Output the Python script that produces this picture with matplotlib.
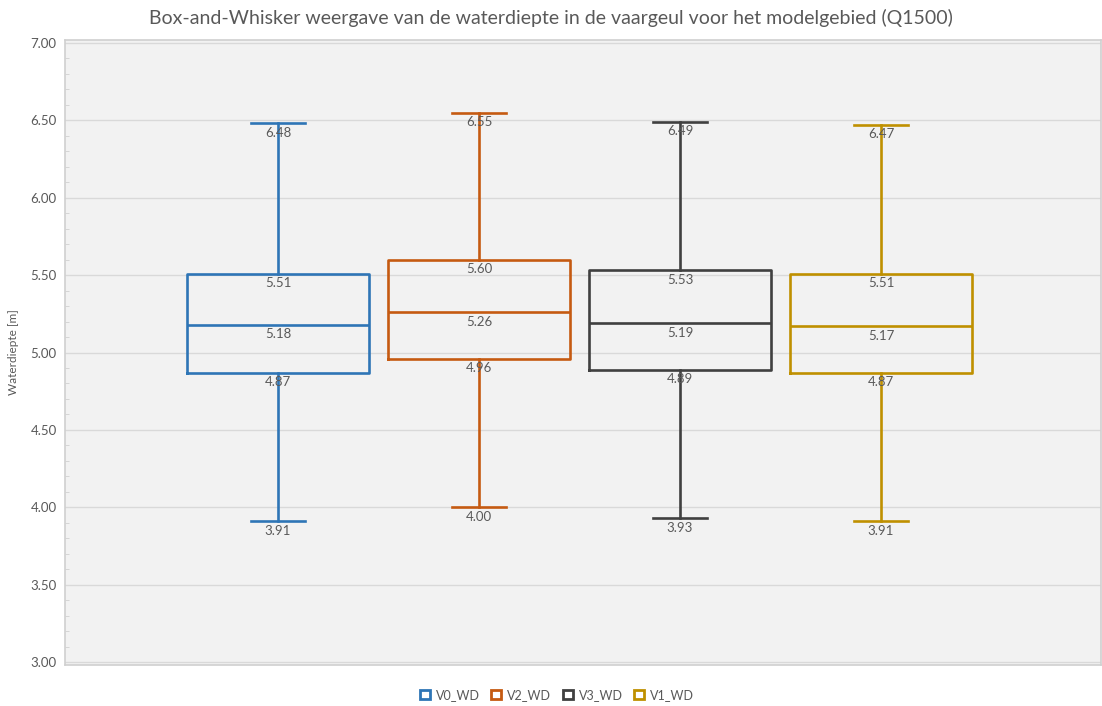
import matplotlib.pyplot as plt
from matplotlib.patches import Patch
from matplotlib.ticker import MultipleLocator

plt.rcParams['font.family'] = ['Lato', 'DejaVu Sans']

series = ['V0_WD', 'V2_WD', 'V3_WD', 'V1_WD']
colors = ['#2e75b6', '#c55a11', '#404040', '#bf9000']
whislo = [3.91, 4.00, 3.93, 3.91]
q1 = [4.87, 4.96, 4.89, 4.87]
med = [5.18, 5.26, 5.19, 5.17]
q3 = [5.51, 5.60, 5.53, 5.51]
whishi = [6.48, 6.55, 6.49, 6.47]

text_col = '#595959'

fig = plt.figure(figsize=(11.02, 7.06), dpi=100)
ax = fig.add_axes([65 / 1102, 1 - 665 / 706, 1036 / 1102, 625 / 706])
ax.set_facecolor('#f2f2f2')

positions = [1, 2, 3, 4]
for i, name in enumerate(series):
    stats = [{'whislo': whislo[i], 'q1': q1[i], 'med': med[i], 'q3': q3[i],
              'whishi': whishi[i], 'fliers': [], 'label': name}]
    c = colors[i]
    ax.bxp(stats, positions=[positions[i]], widths=0.91, showfliers=False,
           boxprops=dict(color=c, linewidth=1.9),
           medianprops=dict(color=c, linewidth=1.9),
           whiskerprops=dict(color=c, linewidth=1.9),
           capprops=dict(color=c, linewidth=1.9),
           capwidths=0.27, zorder=3)
    # value labels just below each line
    for v in [whislo[i], q1[i], med[i], q3[i], whishi[i]]:
        ax.annotate(f'{v:.2f}', (positions[i], v), xytext=(0, -2.5),
                    textcoords='offset points', ha='center', va='top',
                    fontsize=9.5, color=text_col, zorder=4)

ax.set_xlim(1 - 213 / 201, 4 + 220 / 201)
ax.set_ylim(2.981, 7.019)
ax.yaxis.set_minor_locator(MultipleLocator(0.1))
yticks = [3.0, 3.5, 4.0, 4.5, 5.0, 5.5, 6.0, 6.5, 7.0]
ax.set_yticks(yticks)
ax.set_yticklabels([f'{t:.2f}' for t in yticks])
ax.set_xticks([])
ax.grid(axis='y', which='major', color='#d9d9d9', linewidth=1, zorder=0)
ax.set_axisbelow(True)
ax.tick_params(axis='y', which='major', length=0, labelsize=9.5, labelcolor=text_col, pad=6)
ax.tick_params(axis='y', which='minor', direction='in', length=3, color='#d0d0d0')
for s in ax.spines.values():
    s.set_color('#d0d0d0')
    s.set_linewidth(1.2)

ax.set_ylabel('Waterdiepte [m]', fontsize=8.5, color=text_col, labelpad=8)

fig.suptitle('Box-and-Whisker weergave van de waterdiepte in de vaargeul voor het modelgebied (Q1500)',
             y=1 - 18 / 706, va='center', fontsize=14, color=text_col)

handles = [Patch(facecolor='none', edgecolor=c, linewidth=2, label=n)
           for n, c in zip(series, colors)]
fig.legend(handles=handles, loc='center', bbox_to_anchor=(557 / 1102, 1 - 695 / 706),
           ncol=4, frameon=False, fontsize=9, labelcolor=text_col,
           handlelength=0.8, handleheight=0.8, handletextpad=0.5, columnspacing=0.9)

fig.savefig('out.png', dpi=100)
